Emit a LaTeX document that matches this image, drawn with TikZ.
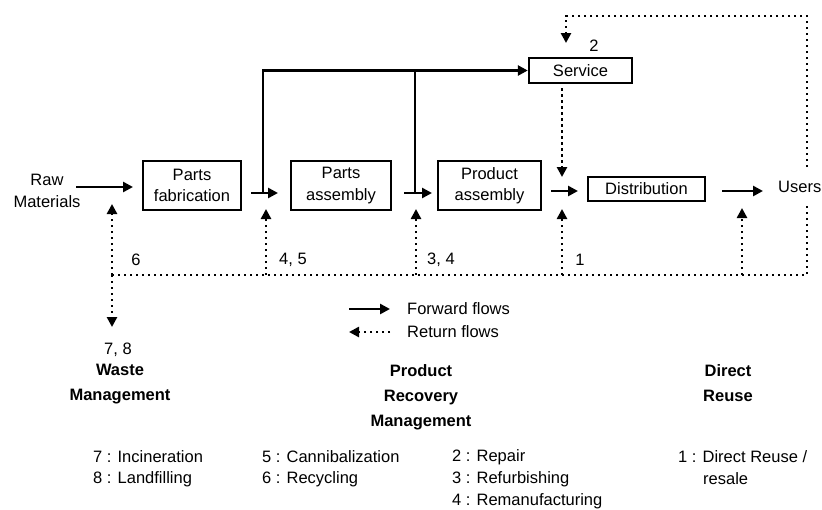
\documentclass[tikz,border=0pt]{standalone}
\usepackage{fontspec}
\setmainfont{Liberation Sans}
\usetikzlibrary{arrows.meta}
\begin{document}
\begin{tikzpicture}[x=1pt,y=-1pt,
  every node/.style={font=\fontsize{16.5}{21.5}\selectfont, inner sep=0pt, align=center},
  procbox/.style={draw, line width=2.4pt},
  fwd/.style={line width=2.6pt, -{Triangle[length=10pt,width=10pt]}},
  ret/.style={line width=2.6pt, dash pattern=on 2.4pt off 3.6pt, -{Triangle[length=10pt,width=10pt]}},
  retline/.style={line width=2.6pt, dash pattern=on 2.4pt off 3.6pt},
  plainline/.style={line width=2.6pt},
  lbl/.style={anchor=west},
  head/.style={font=\fontsize{16.5}{25}\selectfont\bfseries}
]
\useasboundingbox (0,0) rectangle (822,509);

% process boxes
\node[procbox, minimum width=98pt, minimum height=49pt] (fab) at (192,185.5) {Parts\\fabrication};
\node[procbox, minimum width=100pt, minimum height=49pt] (passy) at (341,185.5) {Parts\\assembly};
\node[procbox, minimum width=103pt, minimum height=49pt] (prod) at (489.5,185.5) {Product\\assembly};
\node[procbox, minimum width=103pt, minimum height=25pt] (serv) at (580.5,70.5) {Service};
\node[procbox, minimum width=117pt, minimum height=24pt] (dist) at (646.5,189) {Distribution};

\node (raw) at (47,191) {Raw\\Materials};
\node[anchor=west] (users) at (778,187) {Users};

% forward arrows
\coordinate (r1) at (76,187);   \coordinate (r2) at (133,187);
\coordinate (f1) at (251,193);  \coordinate (f2) at (278,193);
\coordinate (p1) at (404,193);  \coordinate (p2) at (432,193);
\coordinate (d1) at (551,191);  \coordinate (d2) at (578,191);
\coordinate (u1) at (722,191);  \coordinate (u2) at (763,191);
\coordinate (j1) at (263,193);  \coordinate (j2) at (415,193);
\draw[fwd] (r1) -- (r2);
\draw[fwd] (f1) -- (f2);
\draw[fwd] (p1) -- (p2);
\draw[fwd] (d1) -- (d2);
\draw[fwd] (u1) -- (u2);
\draw[fwd] (j1) -- (j1 |- serv.west) -- (serv.west);
\draw[plainline] (j2) -- (j2 |- serv.west);

% return flows
\coordinate (b0) at (112,275);
\coordinate (b1) at (266,275);
\coordinate (b2) at (416,275);
\coordinate (b3) at (562,275);
\coordinate (b4) at (742,275);
\coordinate (b5) at (807,275);
\coordinate (ub) at (807,205);
\coordinate (ut) at (807,167);
\coordinate (tr) at (807,16);
\coordinate (tl) at (566,16);
\coordinate (tt) at (566,43);
\draw[retline] (b0) -- (b5) -- (ub);
\draw[ret] (ut) -- (tr) -- (tl) -- (tt);
\draw[ret] (b0) -- (112,204);
\draw[ret] (b0) -- (112,327);
\draw[ret] (b1) -- (266,209);
\draw[ret] (b2) -- (416,209);
\draw[ret] (b3) -- (562,209);
\draw[ret] (b4) -- (742,208);
\draw[ret] (serv.south -| 562,0) ++(0,4) -- (562,177);

% flow labels
\node (l6) at (136,260) {6};
\node (l45) at (293,260) {4, 5};
\node (l34) at (441,260) {3, 4};
\node (l1) at (580,260) {1};
\node (l2) at (594,46) {2};

% legend
\coordinate (lf1) at (349,309); \coordinate (lf2) at (390,309);
\coordinate (lr1) at (390,332); \coordinate (lr2) at (349,332);
\draw[fwd] (lf1) -- (lf2);
\draw[ret] (lr1) -- (lr2);
\node[lbl] (lgf) at (407,309) {Forward flows};
\node[lbl] (lgr) at (407,332) {Return flows};

% categories
\node (l78) at (118,350) {7, 8};
\node[head, anchor=north] (waste) at (120,364) {Waste\\Management};
\node[head, anchor=north] (prm) at (421,364) {Product\\Recovery\\Management};
\node[head, anchor=north] (dr) at (728,364) {Direct\\Reuse};

% lists
\node[lbl] at (93,457) {7 : Incineration};
\node[lbl] at (93,479) {8 : Landfilling};
\node[lbl] at (262,457) {5 : Cannibalization};
\node[lbl] at (262,479) {6 : Recycling};
\node[lbl] at (452,457) {2 : Repair};
\node[lbl] at (452,479) {3 : Refurbishing};
\node[lbl] at (452,501) {4 : Remanufacturing};
\node[lbl] at (678,457) {1 : Direct Reuse /};
\node[lbl] at (703,479) {resale};
\end{tikzpicture}
\end{document}
